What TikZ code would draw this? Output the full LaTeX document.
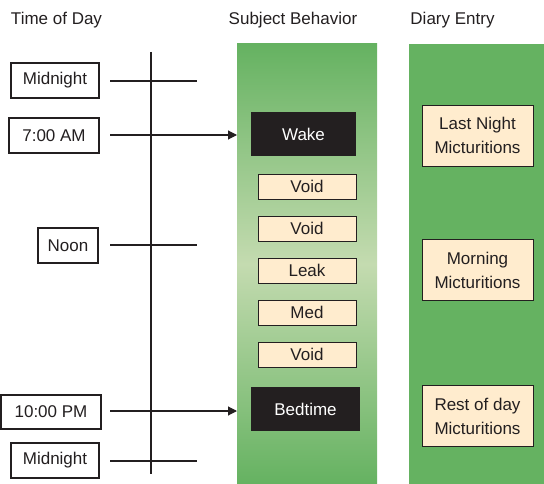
\documentclass[tikz,border=0pt]{standalone}
\usepackage{xcolor}
\usepackage{fontspec}
\setmainfont{Liberation Sans}
\usepackage{tikz}
\usetikzlibrary{arrows.meta}

\definecolor{inkgray}{RGB}{35,31,32}
\definecolor{barGreen}{RGB}{101,178,97}
\definecolor{barLight}{RGB}{196,219,176}
\definecolor{cream}{RGB}{255,236,206}

\begin{document}
\begin{tikzpicture}[x=1pt, y=-1pt,
	txt/.style={font=\fontsize{17}{24}\selectfont, text=inkgray},
	timebox/.style={txt, draw=inkgray, line width=1.2pt, fill=white, minimum height=35pt, inner sep=0pt},
	blackbox/.style={txt, fill=inkgray, text=white, minimum height=44pt, inner sep=0pt},
	eventbox/.style={txt, draw=inkgray, line width=0.8pt, fill=cream, minimum width=98pt, minimum height=25pt, inner sep=0pt},
	diarybox/.style={txt, draw=inkgray, line width=0.8pt, fill=cream, minimum width=111pt, minimum height=61pt, align=center, inner sep=0pt},
	tick/.style={line width=1.1pt, inkgray},
	arr/.style={tick, -{Triangle[length=9pt,width=9pt]}}
	]
	\useasboundingbox (0,0) rectangle (544,484);

	% columns
	\shade[top color=barGreen, bottom color=barGreen, middle color=barLight] (237,44) rectangle (377,484);
	\fill[barGreen] (409,44) rectangle (544,484);

	% titles
	\node[txt] (tday) at (56.5,20) {Time of Day};
	\node[txt] (tsubj) at (293,20) {Subject Behavior};
	\node[txt] (tdiary) at (452.5,20) {Diary Entry};

	% time axis
	\coordinate (axtop) at (151,52);
	\coordinate (axbot) at (151,474);
	\draw[tick] (axtop) -- (axbot);

	\node[timebox, minimum width=88pt] (mid1) at (55,80.5) {Midnight};
	\node[timebox, minimum width=90pt] (am7) at (54,135.5) {7:00 AM};
	\node[timebox, minimum width=60pt] (noon) at (68,245.5) {Noon};
	\node[timebox, minimum width=100pt, minimum height=34pt] (pm10) at (51,412) {10:00 PM};
	\node[timebox, minimum width=88pt] (mid2) at (55,460.5) {Midnight};

	% subject behavior
	\node[blackbox, minimum width=105pt] (wake) at (303.5,134) {Wake};
	\node[blackbox, minimum width=109pt] (bed) at (305.5,409) {Bedtime};
	\foreach \Name/\Y/\Label in {v1/186.5/Void, v2/228.5/Void, leak/270.5/Leak, med/312.5/Med, v3/354.5/Void}{
		\node[eventbox] (\Name) at (307,\Y) {\Label};
	};

	% diary entry
	\node[diarybox] (night) at (477.5,135.5) {Last Night\\Micturitions};
	\node[diarybox] (morning) at (477.5,270) {Morning\\Micturitions};
	\node[diarybox] (rest) at (477.5,416) {Rest of day\\Micturitions};

	% ticks and arrows
	\foreach \Name/\Y in {mid1/81, noon/245, mid2/461}{
		\coordinate (\Name a) at (110,\Y);
		\coordinate (\Name b) at (197,\Y);
		\draw[tick] (\Name a) -- (\Name b);
	};
	\coordinate (am7a) at (110,135);
	\coordinate (am7b) at (237,135);
	\draw[arr] (am7a) -- (am7b);
	\coordinate (pm10a) at (110,411);
	\coordinate (pm10b) at (237,411);
	\draw[arr] (pm10a) -- (pm10b);
\end{tikzpicture}
\end{document}
